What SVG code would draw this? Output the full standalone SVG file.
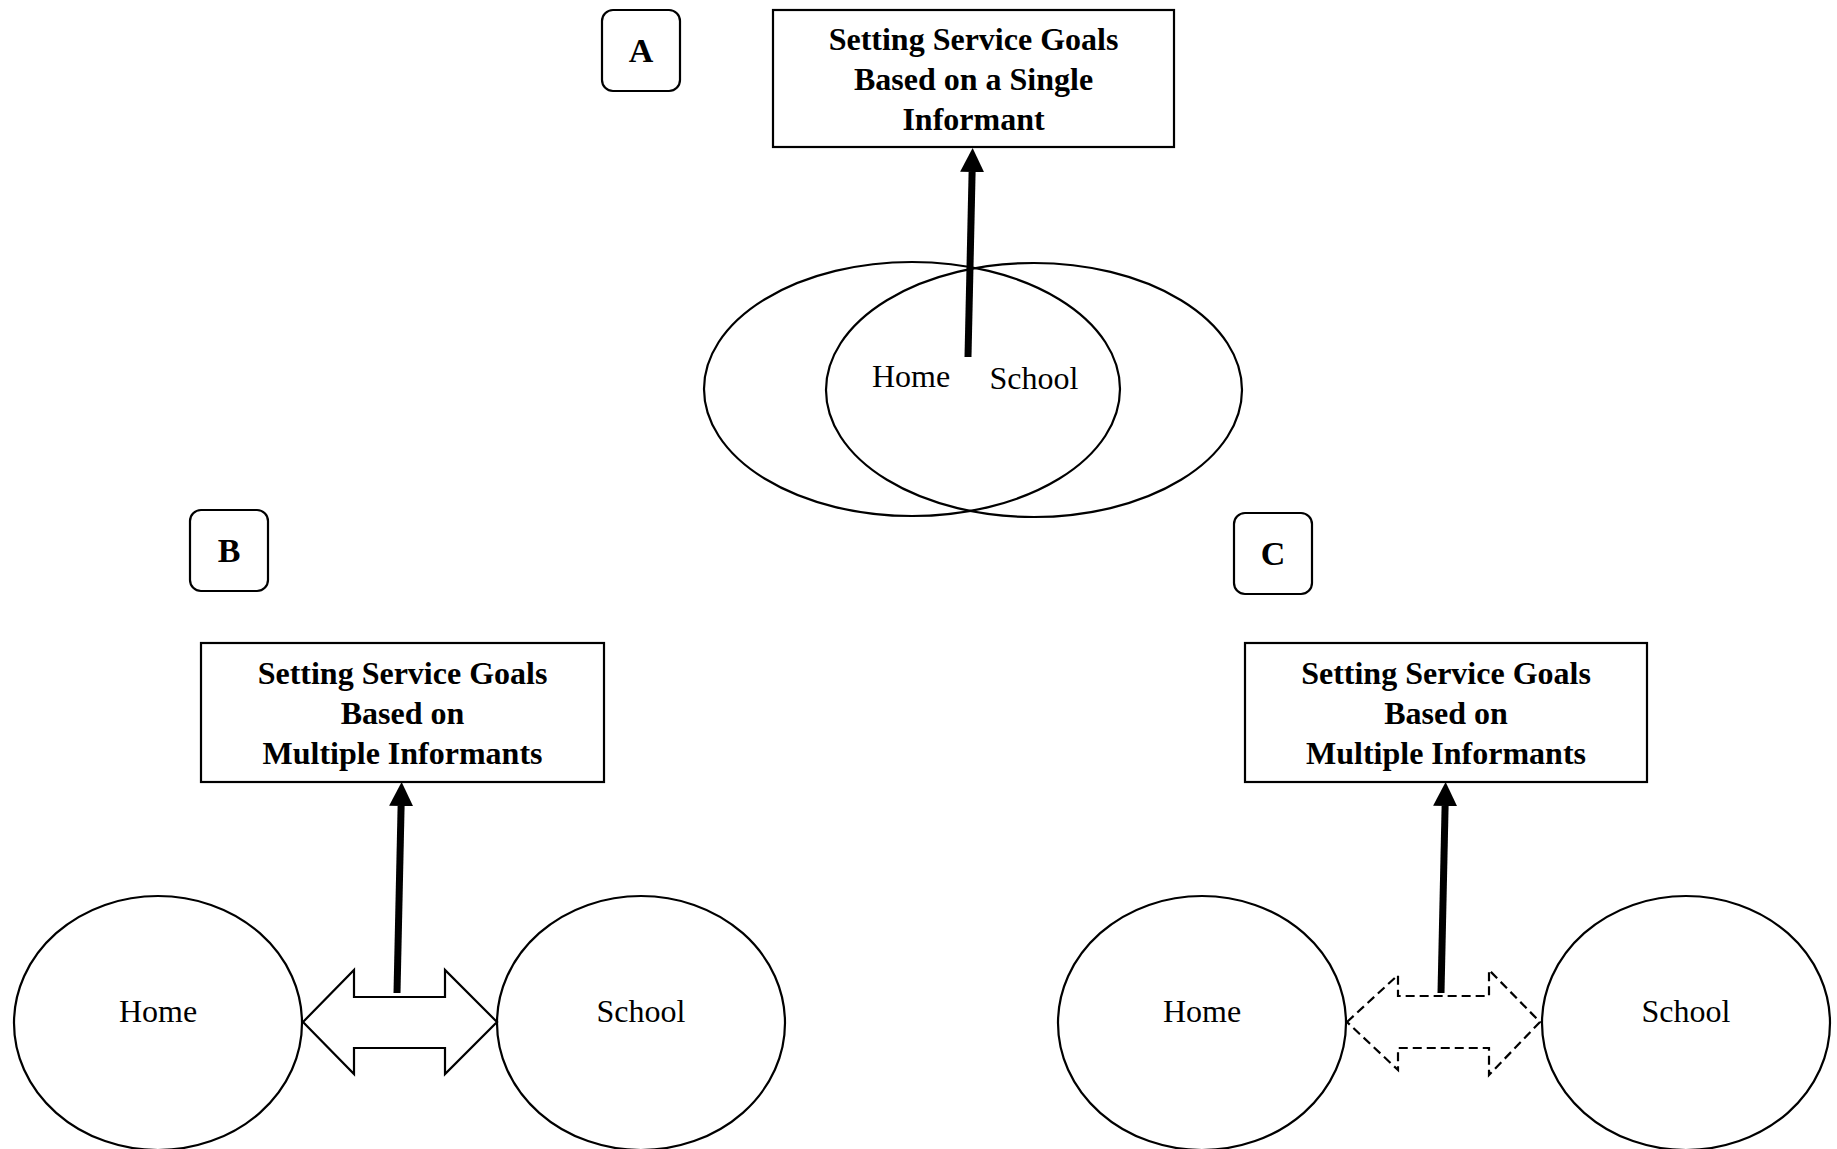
<svg xmlns="http://www.w3.org/2000/svg" width="1837" height="1149" viewBox="0 0 1837 1149">
<style>
.bg{fill:#fff}
.box{fill:#fff;stroke:#000;stroke-width:2.2}
.tag{fill:#fff;stroke:#000;stroke-width:2.2}
.ell{fill:none;stroke:#000;stroke-width:2.2}
.title{font-family:"Liberation Serif","Times New Roman",serif;font-weight:bold;font-size:32px;fill:#000;text-anchor:middle}
.letter{font-family:"Liberation Serif","Times New Roman",serif;font-weight:bold;font-size:34px;fill:#000;text-anchor:middle}
.lbl{font-family:"Liberation Serif","Times New Roman",serif;font-size:32px;fill:#000;text-anchor:middle}
.shaft{stroke:#000;stroke-width:7;fill:none}
.dbl{fill:#fff;stroke:#000;stroke-width:2.2;stroke-linejoin:miter}
.dbl-dash{fill:#fff;stroke:#000;stroke-width:2.2;stroke-dasharray:9 5}
</style>
<defs>
<marker id="head" markerUnits="userSpaceOnUse" markerWidth="24" markerHeight="24" viewBox="0 0 24 24" refX="0" refY="12" orient="auto">
<path d="M0,0 L24,12 L0,24 z" fill="#000"/>
</marker>
</defs>
<rect class="bg" x="0" y="0" width="1837" height="1149"/>

<!-- Panel A -->
<g id="tagA">
<rect class="tag" x="602" y="10" width="78" height="81" rx="11"/>
<text class="letter" x="641" y="62">A</text>
</g>
<g id="goalA">
<rect class="box" x="773" y="10" width="401" height="137"/>
<text class="title" x="973.5" y="50">Setting Service Goals</text>
<text class="title" x="973.5" y="90">Based on a Single</text>
<text class="title" x="973.5" y="130">Informant</text>
</g>
<g id="homeA">
<ellipse class="ell" cx="912" cy="389" rx="208" ry="127"/>
<text class="lbl" x="911" y="387">Home</text>
</g>
<g id="schoolA">
<ellipse class="ell" cx="1034" cy="390" rx="208" ry="127"/>
<text class="lbl" x="1034" y="389">School</text>
</g>

<!-- Panel B -->
<g id="tagB">
<rect class="tag" x="190" y="510" width="78" height="81" rx="11"/>
<text class="letter" x="229" y="562">B</text>
</g>
<g id="goalB">
<rect class="box" x="201" y="643" width="403" height="139"/>
<text class="title" x="402.5" y="684">Setting Service Goals</text>
<text class="title" x="402.5" y="724">Based on</text>
<text class="title" x="402.5" y="764">Multiple Informants</text>
</g>
<g id="homeB">
<ellipse class="ell" cx="158" cy="1023" rx="144" ry="127"/>
<text class="lbl" x="158" y="1022">Home</text>
</g>
<g id="schoolB">
<ellipse class="ell" cx="641" cy="1023" rx="144" ry="127"/>
<text class="lbl" x="641" y="1022">School</text>
</g>

<!-- Panel C -->
<g id="tagC">
<rect class="tag" x="1234" y="513" width="78" height="81" rx="11"/>
<text class="letter" x="1273" y="565">C</text>
</g>
<g id="goalC">
<rect class="box" x="1245" y="643" width="402" height="139"/>
<text class="title" x="1446" y="684">Setting Service Goals</text>
<text class="title" x="1446" y="724">Based on</text>
<text class="title" x="1446" y="764">Multiple Informants</text>
</g>
<g id="homeC">
<ellipse class="ell" cx="1202" cy="1023" rx="144" ry="127"/>
<text class="lbl" x="1202" y="1022">Home</text>
</g>
<g id="schoolC">
<ellipse class="ell" cx="1686" cy="1023" rx="144" ry="127"/>
<text class="lbl" x="1686" y="1022">School</text>
</g>

<!-- Connectors -->
<g id="connectors">
<polygon id="exchangeB" class="dbl" points="303,1022 354,970 354,997 445,997 445,970 497,1022 445,1074 445,1048 354,1048 354,1074"/>
<polygon id="exchangeC" class="dbl-dash" points="1347,1022 1398,975 1398,996 1489,996 1489,970 1540,1022 1489,1075 1489,1048 1398,1048 1398,1070"/>
<line class="shaft" x1="968" y1="357" x2="972.1" y2="172" marker-end="url(#head)"/>
<line class="shaft" x1="397" y1="993" x2="401.1" y2="806" marker-end="url(#head)"/>
<line class="shaft" x1="1441" y1="993" x2="1445.1" y2="806" marker-end="url(#head)"/>
</g>
</svg>
